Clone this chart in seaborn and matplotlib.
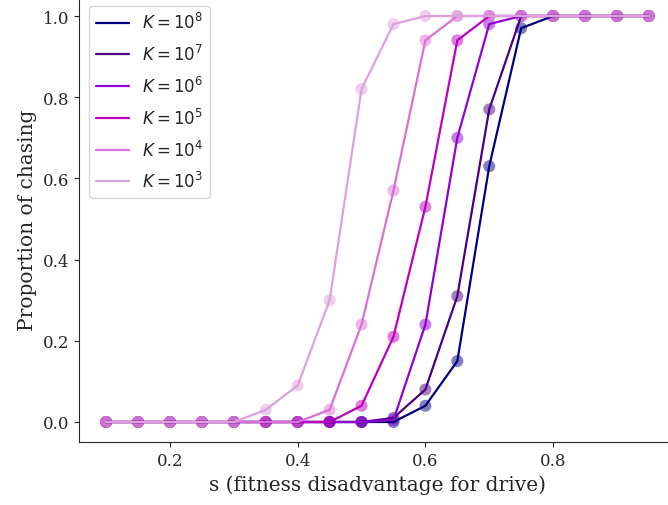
import numpy as np
import pandas as pd
import matplotlib
matplotlib.use("Agg")
import matplotlib.pyplot as plt
import seaborn as sns

s_values = [0.10, 0.15, 0.20, 0.25, 0.30, 0.35, 0.40, 0.45, 0.50, 0.55,
            0.60, 0.65, 0.70, 0.75, 0.80, 0.85, 0.90, 0.95]

k_labels = ["$K = 10^8$", "$K = 10^7$", "$K = 10^6$", "$K = 10^5$", "$K = 10^4$", "$K = 10^3$"]
k_colors = ["#000080", "#4B0082", "#9400D3", "#BF00BF", "#DA70D6", "#DDA0DD"]

chase_k8 = [0, 0, 0, 0, 0, 0, 0, 0, 0, 0.0, 0.04, 0.15, 0.63, 0.97, 1, 1, 1, 1]
chase_k7 = [0, 0, 0, 0, 0, 0, 0, 0, 0, 0.01, 0.08, 0.31, 0.77, 1.0, 1, 1, 1, 1]
chase_k6 = [0, 0, 0, 0, 0, 0, 0, 0, 0, 0.005, 0.24, 0.70, 0.98, 1.0, 1, 1, 1, 1]
chase_k5 = [0, 0, 0, 0, 0, 0, 0, 0, 0.04, 0.21, 0.53, 0.94, 1.0, 1, 1, 1, 1, 1]
chase_k4 = [0, 0, 0, 0, 0, 0, 0, 0.03, 0.24, 0.57, 0.94, 1.0, 1, 1, 1, 1, 1, 1]
chase_k3 = [0, 0, 0, 0, 0, 0.03, 0.09, 0.30, 0.82, 0.98, 1.0, 1, 1, 1, 1, 1, 1, 1]

series = [chase_k8, chase_k7, chase_k6, chase_k5, chase_k4, chase_k3]

sns.set_style("ticks")
plt.rcParams["font.family"] = ["DejaVu Serif"]
plt.rcParams["mathtext.fontset"] = "dejavusans"

fig = plt.figure(figsize=(6.68, 5.06), dpi=100)
ax = fig.add_axes([79 / 668, 62.7 / 506, 597 / 668, 446.6 / 506])

for lab, col, vals in zip(k_labels, k_colors, series):
    df = pd.DataFrame({"s": s_values, "p": vals})
    sns.lineplot(data=df, x="s", y="p", color=col, lw=1.6, label=lab, ax=ax)
    sns.scatterplot(data=df, x="s", y="p", color=col, s=75, alpha=0.5,
                    edgecolor="none", ax=ax, legend=False)

ax.set_xlim(0.0575, 0.9925)
ax.set_ylim(-0.05, 1.05)
ax.set_xticks([0.2, 0.4, 0.6, 0.8])
ax.set_yticks([0.0, 0.2, 0.4, 0.6, 0.8, 1.0])
ax.tick_params(labelsize=12)
ax.set_xlabel("s (fitness disadvantage for drive)", fontsize=14.5)
ax.set_ylabel("Proportion of chasing", fontsize=14.5)
sns.despine(ax=ax)
leg = ax.legend(loc="upper left", prop={"family": "DejaVu Sans", "size": 12},
                labelspacing=0.7, borderaxespad=0.6)

fig.savefig("out.png", dpi=100)
